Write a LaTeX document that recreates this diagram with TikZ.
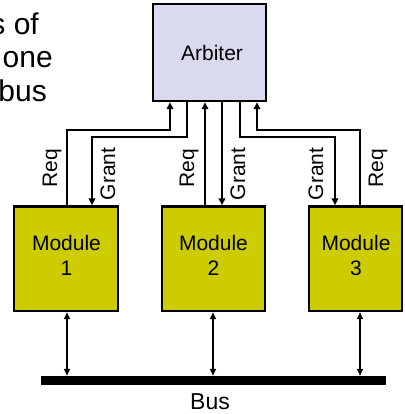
\documentclass[tikz,border=0pt]{standalone}
\usepackage{fontspec}
\setmainfont{Liberation Sans}
\usetikzlibrary{arrows.meta}
\definecolor{arbfill}{RGB}{218,218,238}
\definecolor{modfill}{RGB}{204,204,0}
\begin{document}
\begin{tikzpicture}[x=1pt,y=-1pt,
  box/.style={draw=black, line width=2.4pt, inner sep=0pt},
  arbbox/.style={box, fill=arbfill, minimum width=113pt, minimum height=97pt},
  modbox/.style={box, fill=modfill, minimum height=104.5pt},
  txt/.style={font=\fontsize{21}{25}\selectfont, align=center, inner sep=0pt},
  sig/.style={font=\fontsize{21}{25}\selectfont, rotate=90, inner sep=0pt},
  big/.style={font=\fontsize{30}{34}\selectfont, inner sep=0pt, anchor=base east},
  wire/.style={line width=1.7pt},
  arr/.style={wire, -{Triangle[length=7pt,width=6.5pt]}},
  biarr/.style={line width=1.4pt, {Triangle[length=7pt,width=6pt]}-{Triangle[length=7pt,width=6pt]}},
]
\useasboundingbox (0,0) rectangle (404,414);
\clip (0,0) rectangle (404,414);

% partial slide text
\node[big] (t1) at (39,35) {s of};
\node[big] (t2) at (53,68) {one};
\node[big] (t3) at (47,102) {bus};

% boxes
\node[arbbox] (arbiter) at (209.5,52.5) {};
\node[txt] (arbtxt) at (212,53) {Arbiter};
\node[modbox, minimum width=104pt] (m1) at (66,258.75) {};
\node[modbox, minimum width=103pt] (m2) at (213.5,258.75) {};
\node[modbox, minimum width=93pt] (m3) at (355.5,258.75) {};
\node[txt] (m1t) at (66.5,255) {Module\\1};
\node[txt] (m2t) at (213.5,255) {Module\\2};
\node[txt] (m3t) at (356,255) {Module\\3};

% bus bar
\node[fill=black, minimum width=345pt, minimum height=9pt, inner sep=0pt] (bus) at (213.5,380.5) {};
\node[font=\fontsize{23}{27}\selectfont, inner sep=0pt, anchor=base] (bustxt) at (210,409) {Bus};

% column coordinates
\coordinate (r1) at (67,130);
\coordinate (a1) at (170,130);
\coordinate (g1a) at (187,137);
\coordinate (g1) at (92,137);
\coordinate (r2) at (205,0);
\coordinate (g2) at (222,0);
\coordinate (g3a) at (240,137);
\coordinate (g3) at (335,137);
\coordinate (r3) at (360,130);
\coordinate (a3) at (257,130);
\coordinate (b2) at (213,0);

% request / grant lines
\draw[arr] (m1.north -| r1) -- (r1) -- (a1) -- (arbiter.south -| a1);
\draw[arr] (arbiter.south -| g1a) -- (g1a) -- (g1) -- (m1.north -| g1);
\draw[arr] (m2.north -| r2) -- (arbiter.south -| r2);
\draw[arr] (arbiter.south -| g2) -- (m2.north -| g2);
\draw[arr] (arbiter.south -| g3a) -- (g3a) -- (g3) -- (m3.north -| g3);
\draw[arr] (m3.north -| r3) -- (r3) -- (a3) -- (arbiter.south -| a3);

% labels
\node[sig] (l1) at (52,168) {Req};
\node[sig] (l2) at (108,174) {Grant};
\node[sig] (l3) at (189,168) {Req};
\node[sig] (l4) at (238,174) {Grant};
\node[sig] (l5) at (316,174) {Grant};
\node[sig] (l6) at (378,168) {Req};

% bus connections
\draw[biarr] (m1.south -| r1) -- (bus.north -| r1);
\draw[biarr] (m2.south -| b2) -- (bus.north -| b2);
\draw[biarr] (m3.south -| r3) -- (bus.north -| r3);
\end{tikzpicture}
\end{document}
